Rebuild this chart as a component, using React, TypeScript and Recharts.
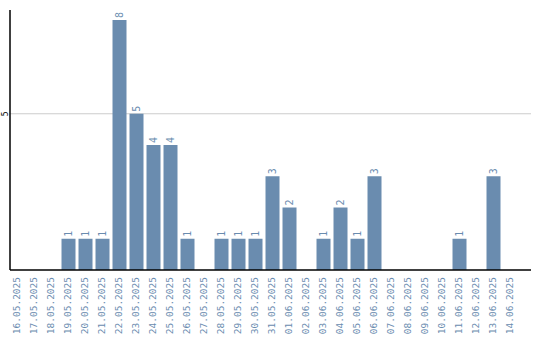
import React from "react"
import { BarChart, Bar, XAxis, YAxis, CartesianGrid, LabelList } from "recharts"

const dates = [
	"16.05.2025","17.05.2025","18.05.2025","19.05.2025","20.05.2025","21.05.2025","22.05.2025","23.05.2025",
	"24.05.2025","25.05.2025","26.05.2025","27.05.2025","28.05.2025","29.05.2025","30.05.2025","31.05.2025",
	"01.06.2025","02.06.2025","03.06.2025","04.06.2025","05.06.2025","06.06.2025","07.06.2025","08.06.2025",
	"09.06.2025","10.06.2025","11.06.2025","12.06.2025","13.06.2025","14.06.2025",
]
const counts = [0,0,0,1,1,1,8,5,4,4,1,0,1,1,1,3,2,0,1,2,1,3,0,0,0,0,1,0,3,0]
const yTicks = [5]

const data = dates.map((d, i) => ({ idx: i, name: d, value: counts[i] }))
const xTicks = data.map((d) => d.idx)

const BLUE = "#6a8caf"
const FONT = "'DejaVu Sans Mono', monospace"

// x labels read bottom-to-top, ending just under the axis
function DateTick(props: any) {
	const { x, payload } = props
	const y = 277
	return (
		<text x={x} y={y} transform={`rotate(-90, ${x}, ${y})`} textAnchor="end" dy="0.35em"
			fill={BLUE} fontSize={9.5} fontFamily={FONT}>{dates[payload.value]}</text>
	)
}

function CountTick(props: any) {
	const { y, payload } = props
	return (
		<text x={5} y={y} transform={`rotate(-90, 5, ${y})`} textAnchor="middle" dy="0.35em"
			fill="#000" fontSize={8} fontFamily={FONT}>{payload.value}</text>
	)
}

function BarValue(props: any) {
	const { x, y, width, value } = props
	if (!value) return null
	const cx = x + width / 2
	const cy = y - 2
	return (
		<text x={cx} y={cy} transform={`rotate(-90, ${cx}, ${cy})`} textAnchor="start" dy="0.35em"
			fill={BLUE} fontSize={10} fontFamily={FONT}>{value}</text>
	)
}

export default function App() {
	return (
		<div style={{position:"absolute", left:0, top:0, width:540, height:340, background:"#fff"}}>
			<BarChart width={540} height={340} data={data} barSize={14} margin={{top:10, right:9, left:0, bottom:0}}>
				<CartesianGrid vertical={false} horizontalValues={yTicks} stroke="#cccccc" />
				<XAxis dataKey="idx" type="number" domain={[-0.412, 30.235]} ticks={xTicks} interval={0}
					allowDataOverflow height={70} tick={<DateTick />} tickLine={false}
					axisLine={{stroke:"#000", strokeWidth:1.5}} />
				<YAxis width={10} domain={[0, 8.32]} ticks={yTicks} tick={<CountTick />} tickLine={false}
					axisLine={{stroke:"#000", strokeWidth:1.5}} />
				<Bar dataKey="value" fill={BLUE} isAnimationActive={false}>
					<LabelList dataKey="value" content={<BarValue />} />
				</Bar>
			</BarChart>
		</div>
	)
}
